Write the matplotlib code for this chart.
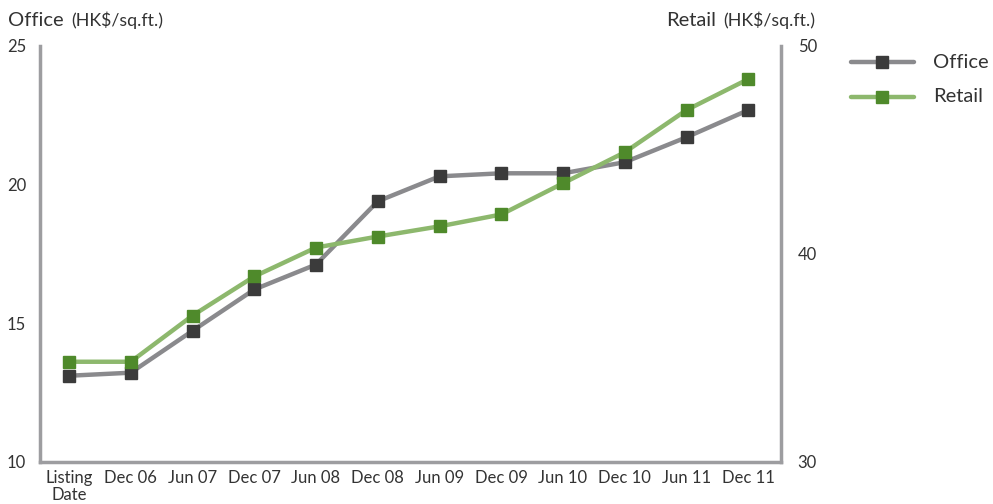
import matplotlib.pyplot as plt
import numpy as np
from matplotlib.lines import Line2D

plt.rcParams['font.family'] = ['Lato', 'DejaVu Sans']

periods = ["Listing\nDate", "Dec 06", "Jun 07", "Dec 07", "Jun 08", "Dec 08",
           "Jun 09", "Dec 09", "Jun 10", "Dec 10", "Jun 11", "Dec 11"]
office = [13.11, 13.22, 14.73, 16.22, 17.12, 19.40, 20.30, 20.41, 20.41, 20.81, 21.71, 22.69]
retail = [34.82, 34.82, 37.04, 38.92, 40.31, 40.84, 41.33, 41.90, 43.40, 44.89, 46.92, 48.41]

office_line, office_mark = "#8a8a8d", "#3b3b3b"
retail_line, retail_mark = "#8db86d", "#4f8a2b"
spine_col = "#9d9da0"
txt = "#333333"

fig = plt.figure(figsize=(9.93, 5.04), dpi=100)
ax = fig.add_axes([40 / 993, (504 - 462) / 504, (781 - 40) / 993, (462 - 46) / 504])
ax2 = ax.twinx()

x = np.arange(len(periods))
ax.plot(x, office, color=office_line, lw=3.2, marker='s', ms=9,
        mfc=office_mark, mec=office_mark, zorder=3)
ax2.plot(x, retail, color=retail_line, lw=3.2, marker='s', ms=9,
         mfc=retail_mark, mec=retail_mark, zorder=3)

ax.set_xlim(-0.47, 11.53)
ax.set_ylim(10, 25)
ax2.set_ylim(30, 50)
ax.set_yticks([10, 15, 20, 25])
ax2.set_yticks([30, 40, 50])
ax.set_xticks(x)
ax.set_xticklabels(periods, fontsize=10.5, color=txt, linespacing=1.05)

for a in (ax, ax2):
    for s in a.spines.values():
        s.set_visible(False)
    a.tick_params(length=0, labelsize=12, colors=txt)
ax.tick_params(axis='y', pad=10)
ax2.tick_params(axis='y', pad=12)
ax.tick_params(axis='x', pad=6)
for s in ('left', 'bottom'):
    ax.spines[s].set_visible(True)
    ax.spines[s].set_color(spine_col)
    ax.spines[s].set_linewidth(2.5)
ax2.spines['right'].set_visible(True)
ax2.spines['right'].set_color(spine_col)
ax2.spines['right'].set_linewidth(2.5)

ty = 1 - 20 / 504
fig.text(8 / 993, ty, "Office", fontsize=14.5, color=txt, va='center')
fig.text(71 / 993, ty, "(HK$/sq.ft.)", fontsize=12.8, color=txt, va='center')
fig.text(815 / 993, ty, "(HK$/sq.ft.)", fontsize=12.8, color=txt, va='center', ha='right')
fig.text(716 / 993, ty, "Retail", fontsize=14.5, color=txt, va='center', ha='right')

# legend drawn by hand
for yy, lc, mc, name in [(62, office_line, office_mark, "Office"),
                         (97, retail_line, retail_mark, "Retail")]:
    fy = 1 - yy / 504
    fig.add_artist(Line2D([851 / 993, 914 / 993], [fy, fy], color=lc, lw=3.2,
                          solid_capstyle='round'))
    fig.add_artist(Line2D([882 / 993], [fy], marker='s', ms=9, color=mc))
    fig.text(933 / 993, fy, name, fontsize=14.5, color=txt, va='center')

fig.savefig("out.png", dpi=100)
